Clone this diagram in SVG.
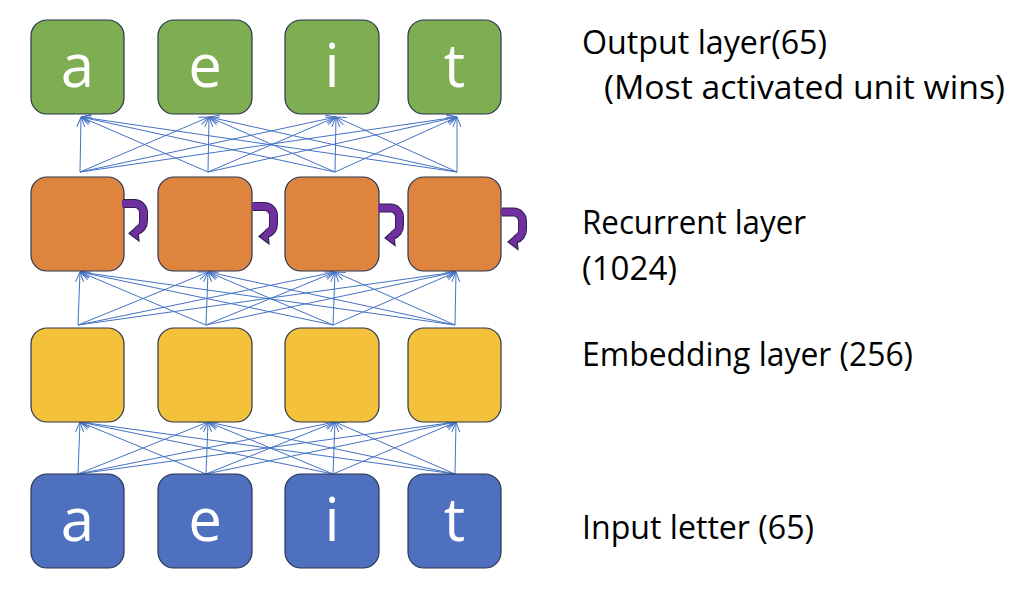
<svg xmlns="http://www.w3.org/2000/svg" width="1024" height="600" viewBox="0 0 1024 600">
<defs>
<marker id="ah" viewBox="0 0 10 10" refX="10" refY="5" markerWidth="10" markerHeight="10" markerUnits="userSpaceOnUse" orient="auto">
<path d="M0,1 L10,5 L0,9" fill="none" stroke="#4472C4" stroke-width="1"/>
</marker>
<g id="loop">
<path d="M0,3.5 H11 A9,9 0 0 1 20.5,12.5 V21 A10,10 0 0 1 13,31" fill="none" stroke="#2E2150" stroke-width="9"/>
<polygon points="6,33.5 14.5,26 16,41" fill="#7030A0" stroke="#2E2150" stroke-width="1.2" stroke-linejoin="miter"/>
<path d="M-1,3.5 H11 A9,9 0 0 1 20.5,12.5 V21 A10,10 0 0 1 13.5,30.5" fill="none" stroke="#7030A0" stroke-width="7"/>
</g>
</defs>
<style>
.box{stroke:#2A3550;stroke-width:1.2}
.out{fill:#7EAD52}.rec{fill:#DF843F}.emb{fill:#F4C13B}.inp{fill:#4E70BF}
.let{font-family:"Open Sans","Liberation Sans",sans-serif;font-size:60px;fill:#FFFFFF;text-anchor:middle}
.lbl{font-family:"Open Sans","Liberation Sans",sans-serif;font-size:32px;fill:#000000}
.c line{stroke:#4472C4;stroke-width:1;marker-end:url(#ah)}
</style>
<rect width="1024" height="600" fill="#FFFFFF"/>

<g id="connectors" class="c">
<line x1="80" y1="172" x2="81" y2="117"/><line x1="80" y1="172" x2="209" y2="117"/><line x1="80" y1="172" x2="336" y2="117"/><line x1="80" y1="172" x2="457" y2="117"/>
<line x1="208" y1="172" x2="81" y2="117"/><line x1="208" y1="172" x2="209" y2="117"/><line x1="208" y1="172" x2="336" y2="117"/><line x1="208" y1="172" x2="457" y2="117"/>
<line x1="335" y1="172" x2="81" y2="117"/><line x1="335" y1="172" x2="209" y2="117"/><line x1="335" y1="172" x2="336" y2="117"/><line x1="335" y1="172" x2="457" y2="117"/>
<line x1="457" y1="172" x2="81" y2="117"/><line x1="457" y1="172" x2="209" y2="117"/><line x1="457" y1="172" x2="336" y2="117"/><line x1="457" y1="172" x2="457" y2="117"/>
<line x1="78" y1="325" x2="80" y2="272"/><line x1="78" y1="325" x2="208" y2="272"/><line x1="78" y1="325" x2="335" y2="272"/><line x1="78" y1="325" x2="456" y2="272"/>
<line x1="206" y1="325" x2="80" y2="272"/><line x1="206" y1="325" x2="208" y2="272"/><line x1="206" y1="325" x2="335" y2="272"/><line x1="206" y1="325" x2="456" y2="272"/>
<line x1="333" y1="325" x2="80" y2="272"/><line x1="333" y1="325" x2="208" y2="272"/><line x1="333" y1="325" x2="335" y2="272"/><line x1="333" y1="325" x2="456" y2="272"/>
<line x1="455" y1="325" x2="80" y2="272"/><line x1="455" y1="325" x2="208" y2="272"/><line x1="455" y1="325" x2="335" y2="272"/><line x1="455" y1="325" x2="456" y2="272"/>
<line x1="78" y1="474" x2="80" y2="422"/><line x1="78" y1="474" x2="208" y2="422"/><line x1="78" y1="474" x2="335" y2="422"/><line x1="78" y1="474" x2="456" y2="422"/>
<line x1="206" y1="474" x2="80" y2="422"/><line x1="206" y1="474" x2="208" y2="422"/><line x1="206" y1="474" x2="335" y2="422"/><line x1="206" y1="474" x2="456" y2="422"/>
<line x1="333" y1="474" x2="80" y2="422"/><line x1="333" y1="474" x2="208" y2="422"/><line x1="333" y1="474" x2="335" y2="422"/><line x1="333" y1="474" x2="456" y2="422"/>
<line x1="455" y1="474" x2="80" y2="422"/><line x1="455" y1="474" x2="208" y2="422"/><line x1="455" y1="474" x2="335" y2="422"/><line x1="455" y1="474" x2="456" y2="422"/>
</g>

<g id="out-a"><rect class="box out" x="31" y="20" width="93" height="94" rx="16"/><text class="let" x="77.5" y="87">a</text></g>
<g id="out-e"><rect class="box out" x="158" y="20" width="94" height="94" rx="16"/><text class="let" x="205" y="87">e</text></g>
<g id="out-i"><rect class="box out" x="285" y="20" width="94" height="94" rx="16"/><text class="let" x="332" y="87">i</text></g>
<g id="out-t"><rect class="box out" x="408" y="20" width="93" height="94" rx="16"/><text class="let" x="454.5" y="87">t</text></g>

<g id="rec-1"><rect class="box rec" x="31" y="177" width="93" height="94" rx="16"/></g>
<g id="rec-2"><rect class="box rec" x="158" y="177" width="94" height="94" rx="16"/></g>
<g id="rec-3"><rect class="box rec" x="285" y="177" width="94" height="94" rx="16"/></g>
<g id="rec-4"><rect class="box rec" x="408" y="177" width="93" height="94" rx="16"/></g>

<g id="loop-1"><use href="#loop" x="123" y="200"/></g>
<g id="loop-2"><use href="#loop" x="253" y="203"/></g>
<g id="loop-3"><use href="#loop" x="379" y="204.5"/></g>
<g id="loop-4"><use href="#loop" x="502" y="208.5"/></g>

<g id="emb-1"><rect class="box emb" x="31" y="328" width="93" height="94" rx="16"/></g>
<g id="emb-2"><rect class="box emb" x="158" y="328" width="94" height="94" rx="16"/></g>
<g id="emb-3"><rect class="box emb" x="285" y="328" width="94" height="94" rx="16"/></g>
<g id="emb-4"><rect class="box emb" x="408" y="328" width="93" height="94" rx="16"/></g>

<g id="in-a"><rect class="box inp" x="31" y="474" width="93" height="94" rx="16"/><text class="let" x="77.5" y="541">a</text></g>
<g id="in-e"><rect class="box inp" x="158" y="474" width="94" height="94" rx="16"/><text class="let" x="205" y="541">e</text></g>
<g id="in-i"><rect class="box inp" x="285" y="474" width="94" height="94" rx="16"/><text class="let" x="332" y="541">i</text></g>
<g id="in-t"><rect class="box inp" x="408" y="474" width="93" height="94" rx="16"/><text class="let" x="454.5" y="541">t</text></g>

<g id="labels">
<text class="lbl" x="582" y="54" textLength="245" lengthAdjust="spacingAndGlyphs">Output layer(65)</text>
<text class="lbl" x="604" y="99" textLength="401" lengthAdjust="spacingAndGlyphs">(Most activated unit wins)</text>
<text class="lbl" x="582" y="234" textLength="224" lengthAdjust="spacingAndGlyphs">Recurrent layer</text>
<text class="lbl" x="582" y="280" textLength="95" lengthAdjust="spacingAndGlyphs">(1024)</text>
<text class="lbl" x="582" y="366" textLength="331" lengthAdjust="spacingAndGlyphs">Embedding layer (256)</text>
<text class="lbl" x="582" y="539" textLength="232" lengthAdjust="spacingAndGlyphs">Input letter (65)</text>
</g>
</svg>
